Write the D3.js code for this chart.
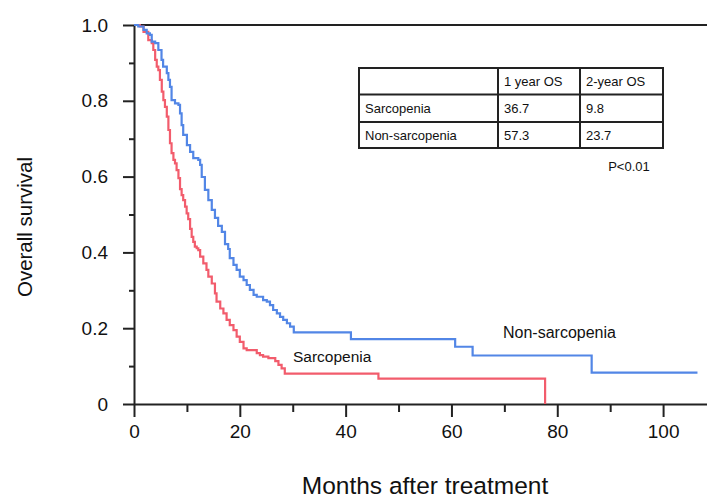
<!DOCTYPE html>
<html>
<head>
<meta charset="utf-8">
<script src="https://cdn.jsdelivr.net/npm/d3@7"></script>
<style>
  body { margin: 0; background: #fff; }
  text { font-family: "Liberation Sans", Arial, sans-serif; fill: #111; }
</style>
</head>
<body>
<div id="chart"></div>
<script>
// Kaplan-Meier steps (months, survival)
const nonSarcTimes = [0, 0.8, 1.8, 2.4, 3.0, 3.35, 4.0, 4.6, 5.2, 5.5, 6.2, 6.5, 6.8, 7.1, 7.75, 8.4, 8.7, 9.0, 9.3, 10.0,
  10.6, 11.2, 12.15, 12.5, 12.8, 13.4, 14.05, 14.7, 15.3, 15.9, 16.6, 17.2, 17.8, 18.1, 18.8, 19.4, 20.0, 20.7, 21.3, 21.9,
  22.6, 23.2, 24.4, 25.1, 25.7, 26.3, 27.0, 27.6, 28.2, 28.9, 29.5, 30.2, 41.0, 60.7, 64.0, 86.5, 106.5];
const nonSarcSurv = [1, 0.996, 0.987, 0.978, 0.974, 0.956, 0.952, 0.934, 0.908, 0.890, 0.873, 0.855, 0.837, 0.802, 0.793, 0.789, 0.767, 0.736, 0.710, 0.683,
  0.665, 0.649, 0.644, 0.631, 0.599, 0.565, 0.538, 0.512, 0.491, 0.470, 0.454, 0.422, 0.409, 0.385, 0.367, 0.354, 0.336, 0.327, 0.314, 0.301,
  0.288, 0.283, 0.274, 0.270, 0.261, 0.248, 0.239, 0.230, 0.222, 0.213, 0.204, 0.189, 0.171, 0.151, 0.128, 0.083, 0.083];

const sarcTimes = [0, 1.1, 1.8, 2.7, 3.35, 3.65, 4.0, 4.3, 4.6, 4.9, 5.25, 5.55, 5.85, 6.2, 6.5, 6.8, 7.1, 7.45, 7.75, 8.05,
  8.4, 8.7, 9.0, 9.3, 9.65, 9.95, 10.25, 10.6, 10.9, 11.2, 11.5, 11.85, 12.15, 12.5, 13.1, 13.7, 14.05, 14.7, 15.3, 15.6,
  16.3, 16.9, 17.5, 18.1, 18.8, 19.4, 20.0, 20.7, 21.3, 23.2, 23.8, 24.4, 25.4, 26.7, 27.3, 27.9, 28.5, 46.2, 77.7];
const sarcSurv = [1, 0.996, 0.982, 0.960, 0.952, 0.934, 0.908, 0.890, 0.881, 0.855, 0.824, 0.802, 0.784, 0.758, 0.723, 0.688, 0.662, 0.644, 0.635, 0.617,
  0.596, 0.567, 0.551, 0.538, 0.521, 0.503, 0.488, 0.462, 0.441, 0.428, 0.415, 0.411, 0.406, 0.389, 0.371, 0.354, 0.336, 0.318, 0.292, 0.270,
  0.252, 0.239, 0.222, 0.208, 0.195, 0.178, 0.164, 0.147, 0.142, 0.134, 0.129, 0.125, 0.121, 0.113, 0.103, 0.094, 0.080, 0.067, 0];

const xMajor = [0, 20, 40, 60, 80, 100];
const xMinor = [10, 30, 50, 70, 90];
const yMajor = [0, 0.2, 0.4, 0.6, 0.8, 1.0];
const yMinor = [0.1, 0.3, 0.5, 0.7, 0.9];

const tableHead = ["", "1 year OS", "2-year OS"];
const tableRows = [["Sarcopenia", "36.7", "9.8"], ["Non-sarcopenia", "57.3", "23.7"]];
const pValue = "P<0.01";

const width = 707, height = 504;

const svg = d3.select("#chart")
  .append("svg")
  .attr("width", width)
  .attr("height", height);

const x = d3.scaleLinear().domain([0, 108.3]).range([134, 707]);
const y = d3.scaleLinear().domain([0, 1]).range([404, 25]);

// axes
svg.append("g").attr("transform", "translate(134,0)")
  .call(d3.axisLeft(y).tickValues(yMajor).tickSize(11).tickSizeOuter(0).tickPadding(15)
    .tickFormat(d => d === 0 ? "0" : d3.format(".1f")(d)));
svg.append("g").attr("transform", "translate(134,0)")
  .call(d3.axisLeft(y).tickValues(yMinor).tickSize(5).tickFormat(""))
  .select(".domain").remove();

svg.append("g").attr("transform", "translate(0,404)")
  .call(d3.axisBottom(x).tickValues(xMajor).tickSize(13).tickSizeOuter(0).tickPadding(8));
svg.append("g").attr("transform", "translate(0,404)")
  .call(d3.axisBottom(x).tickValues(xMinor).tickSize(8).tickFormat(""))
  .select(".domain").remove();

svg.selectAll(".domain, .tick line").attr("stroke", "#222").attr("stroke-width", 2);
svg.selectAll(".tick text").style("font-size", "19px").attr("fill", "#111");

// top line at 1.0
svg.append("line")
  .attr("x1", x(0)).attr("x2", width)
  .attr("y1", y(1)).attr("y2", y(1))
  .attr("stroke", "#222").attr("stroke-width", 2);

// curves
const line = d3.line()
  .x(d => x(d[0]))
  .y(d => y(d[1]))
  .curve(d3.curveStepAfter);

svg.append("path")
  .datum(sarcTimes.map((t, i) => [t, sarcSurv[i]]))
  .attr("fill", "none")
  .attr("stroke", "#f25c6c")
  .attr("stroke-width", 2.2)
  .attr("d", line);

svg.append("path")
  .datum(nonSarcTimes.map((t, i) => [t, nonSarcSurv[i]]))
  .attr("fill", "none")
  .attr("stroke", "#5286e6")
  .attr("stroke-width", 2.2)
  .attr("d", line);

// curve labels
svg.append("text").attr("x", 293).attr("y", 362).style("font-size", "15.5px").text("Sarcopenia");
svg.append("text").attr("x", 503).attr("y", 338).style("font-size", "16px").text("Non-sarcopenia");

// axis titles
svg.append("text")
  .attr("transform", "translate(32,227) rotate(-90)")
  .attr("text-anchor", "middle")
  .style("font-size", "20.5px")
  .text("Overall survival");

svg.append("text")
  .attr("x", 425).attr("y", 494)
  .attr("text-anchor", "middle")
  .style("font-size", "24.5px")
  .text("Months after treatment");

// table
const tbl = svg.append("g");
const colX = [359, 498, 580, 663];
const rowY = [68, 94.5, 122, 148];
const allRows = [tableHead].concat(tableRows);

tbl.append("rect")
  .attr("x", colX[0]).attr("y", rowY[0])
  .attr("width", colX[3] - colX[0]).attr("height", rowY[3] - rowY[0])
  .attr("fill", "none").attr("stroke", "#222").attr("stroke-width", 2);
[1, 2].forEach(i => {
  tbl.append("line").attr("x1", colX[i]).attr("x2", colX[i])
    .attr("y1", rowY[0]).attr("y2", rowY[3]).attr("stroke", "#222").attr("stroke-width", 2);
  tbl.append("line").attr("x1", colX[0]).attr("x2", colX[3])
    .attr("y1", rowY[i]).attr("y2", rowY[i]).attr("stroke", "#222").attr("stroke-width", 2);
});

allRows.forEach((row, r) => {
  row.forEach((cell, c) => {
    tbl.append("text")
      .attr("x", colX[c] + 6)
      .attr("y", (rowY[r] + rowY[r + 1]) / 2 + 5)
      .style("font-size", "13px")
      .text(cell);
  });
});

svg.append("text")
  .attr("x", 629).attr("y", 171)
  .attr("text-anchor", "middle")
  .style("font-size", "13px")
  .text(pValue);
</script>
</body>
</html>
